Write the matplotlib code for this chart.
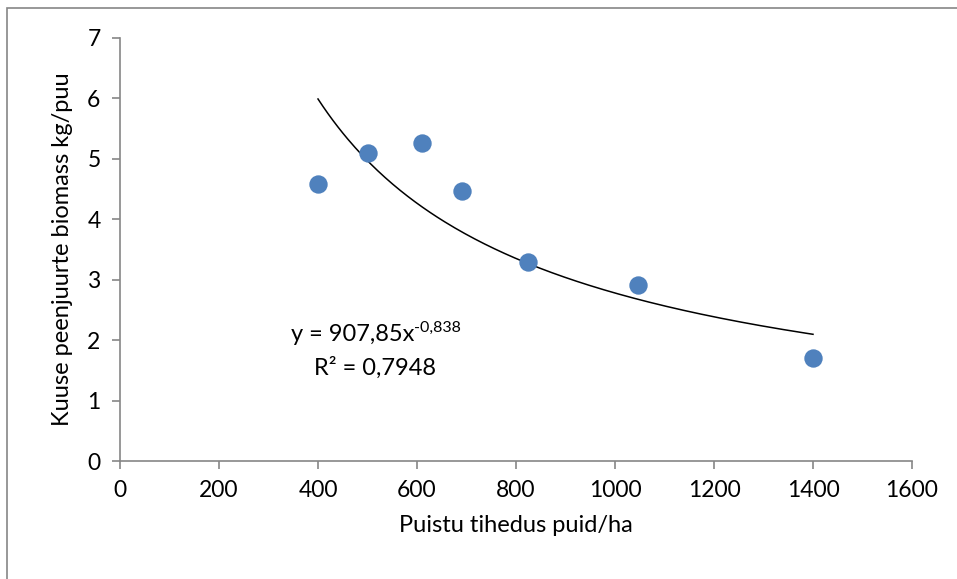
import numpy as np
import matplotlib
matplotlib.use("Agg")
import matplotlib.pyplot as plt
from matplotlib.patches import Rectangle

plt.rcParams['font.family'] = ['Lato', 'DejaVu Sans']

# andmed (loetud jooniselt)
tihedus = [400, 500, 610, 690, 825, 1047, 1400]
biomass = [4.58, 5.09, 5.26, 4.46, 3.29, 2.92, 1.71]

# astmefunktsiooni trend y = a * x^b
trend_a = 907.85
trend_b = -0.838
r2 = 0.7948

gray = '#868686'

fig = plt.figure(figsize=(9.57, 5.79), dpi=100)
ax = fig.add_axes([120/957, 1-461/579, (912-120)/957, (461-38)/579])

# raam ümber joonise
fig.patches.append(Rectangle((7/957, -0.1), 1.2, 1-8/579+0.1, transform=fig.transFigure,
                             fill=False, edgecolor=gray, linewidth=1.2))

ax.scatter(tihedus, biomass, s=175, color='#4F81BD', zorder=3, linewidths=0)

xs = np.linspace(min(tihedus), max(tihedus), 200)
ax.plot(xs, trend_a * xs ** trend_b, color='black', linewidth=1.1, zorder=2)

ax.set_xlim(0, 1600)
ax.set_ylim(0, 7)
ax.set_xticks(range(0, 1601, 200))
ax.set_yticks(range(0, 8))

for s in ['top', 'right']:
    ax.spines[s].set_visible(False)
for s in ['left', 'bottom']:
    ax.spines[s].set_color(gray)
    ax.spines[s].set_linewidth(1.2)
ax.tick_params(colors=gray, labelcolor='black', labelsize=16.5, length=6, width=1.2)
ax.tick_params(axis='x', pad=8)
ax.tick_params(axis='y', pad=8)

ax.set_xlabel('Puistu tihedus puid/ha', fontsize=17, labelpad=10)
ax.set_ylabel('Kuuse peenjuurte biomass kg/puu', fontsize=17, labelpad=10)

# trendi võrrand
def fmt(v):
    return str(v).replace('.', ',')

t1 = ax.text(345, 2.10, 'y = ' + fmt(trend_a) + 'x', fontsize=17, ha='left', va='center')
ax.annotate(fmt(trend_b), xy=(1, 0.78), xycoords=t1, fontsize=11.5,
            ha='left', va='center')
ax.text(515, 1.55, 'R² = ' + fmt(r2), fontsize=17, ha='center', va='center')

fig.savefig('out.png', dpi=100, facecolor='white')
